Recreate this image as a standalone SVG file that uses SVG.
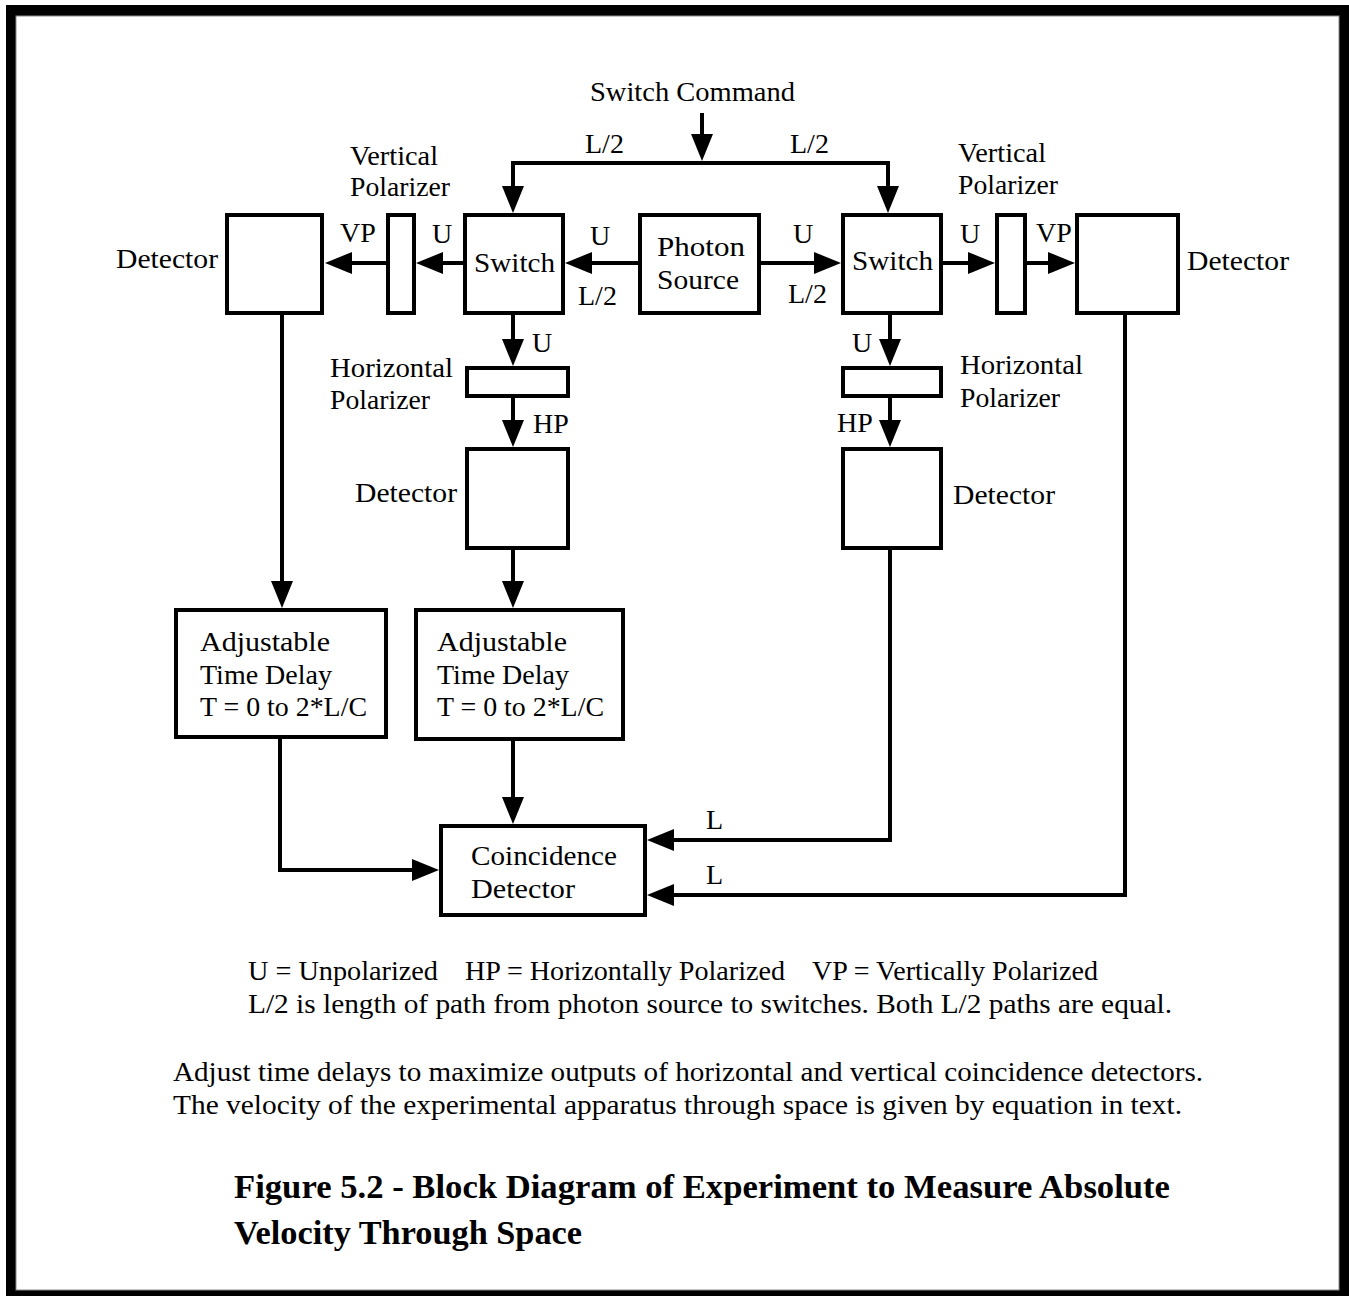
<svg xmlns="http://www.w3.org/2000/svg" width="1349" height="1296" viewBox="0 0 1349 1296">
  <style>
    .box { fill: #ffffff; stroke: #000000; stroke-width: 4; }
    .wire { fill: none; stroke: #000000; stroke-width: 4; stroke-linejoin: miter; }
    text { font-family: "Liberation Serif", "Times New Roman", serif; font-size: 28px; fill: #000000; }
    .title { font-weight: bold; font-size: 34px; }
  </style>
  <defs>
    <!-- solid triangular arrowhead; path ends 12px short of the tip -->
    <marker id="arrow" markerUnits="userSpaceOnUse" markerWidth="28" markerHeight="24" refX="15" refY="11" orient="auto" overflow="visible">
      <path d="M0,0 L27,11 L0,22 Z" fill="#000000"/>
    </marker>
  </defs>

  <!-- page frame -->
  <rect x="6" y="5" width="1343" height="1291" fill="#000000"/>
  <rect x="16" y="16" width="1323" height="1274" fill="#ffffff" stroke="#8a8a8a" stroke-width="1"/>

  <!-- connectors -->
  <g id="connectors">
    <path class="wire" d="M702,113 V149" marker-end="url(#arrow)"/>
    <path class="wire" d="M513,201 V163 H888 V201" marker-end="url(#arrow)"/>
    <path class="wire" d="M513,163 V201" marker-end="url(#arrow)"/>
    <!-- horizontal signal paths -->
    <path class="wire" d="M638,263 H577" marker-end="url(#arrow)"/>
    <path class="wire" d="M463,263 H428" marker-end="url(#arrow)"/>
    <path class="wire" d="M386,263 H337" marker-end="url(#arrow)"/>
    <path class="wire" d="M761,263 H829" marker-end="url(#arrow)"/>
    <path class="wire" d="M943,263 H983" marker-end="url(#arrow)"/>
    <path class="wire" d="M1027,263 H1063" marker-end="url(#arrow)"/>
    <!-- left vertical chain -->
    <path class="wire" d="M513,315 V354" marker-end="url(#arrow)"/>
    <path class="wire" d="M513,398 V435" marker-end="url(#arrow)"/>
    <path class="wire" d="M513,550 V596" marker-end="url(#arrow)"/>
    <path class="wire" d="M513,741 V812" marker-end="url(#arrow)"/>
    <path class="wire" d="M282,315 V596" marker-end="url(#arrow)"/>
    <path class="wire" d="M280,739 V870 H427" marker-end="url(#arrow)"/>
    <!-- right vertical chain -->
    <path class="wire" d="M890,315 V354" marker-end="url(#arrow)"/>
    <path class="wire" d="M890,398 V435" marker-end="url(#arrow)"/>
    <path class="wire" d="M890,550 V840 H659" marker-end="url(#arrow)"/>
    <path class="wire" d="M1125,315 V895 H659" marker-end="url(#arrow)"/>
  </g>

  <!-- connector labels -->
  <g id="connector-labels">
    <text x="590" y="101" textLength="205" lengthAdjust="spacingAndGlyphs">Switch Command</text>
    <text x="585" y="153">L/2</text>
    <text x="790" y="153">L/2</text>
    <text x="590" y="245">U</text>
    <text x="578" y="305">L/2</text>
    <text x="432" y="243">U</text>
    <text x="340" y="242">VP</text>
    <text x="793" y="243">U</text>
    <text x="788" y="303">L/2</text>
    <text x="960" y="243">U</text>
    <text x="1036" y="242">VP</text>
    <text x="532" y="352">U</text>
    <text x="533" y="433">HP</text>
    <text x="852" y="352">U</text>
    <text x="837" y="432">HP</text>
    <text x="706" y="829" font-size="22">L</text>
    <text x="706" y="884" font-size="22">L</text>
  </g>

  <g id="detector-left">
    <rect class="box" x="227" y="215" width="95" height="98"/>
    <text x="116" y="268" textLength="102" lengthAdjust="spacingAndGlyphs">Detector</text>
  </g>
  <g id="vpolarizer-left">
    <rect class="box" x="388" y="215" width="26" height="98"/>
    <text x="350" y="165" textLength="88" lengthAdjust="spacingAndGlyphs">Vertical</text>
    <text x="350" y="196" textLength="100" lengthAdjust="spacingAndGlyphs">Polarizer</text>
  </g>
  <g id="switch-left">
    <rect class="box" x="465" y="215" width="98" height="98"/>
    <text x="474" y="272" textLength="81" lengthAdjust="spacingAndGlyphs">Switch</text>
  </g>
  <g id="photon-source">
    <rect class="box" x="640" y="215" width="119" height="98"/>
    <text x="657" y="256" textLength="88" lengthAdjust="spacingAndGlyphs">Photon</text>
    <text x="657" y="289" textLength="82" lengthAdjust="spacingAndGlyphs">Source</text>
  </g>
  <g id="switch-right">
    <rect class="box" x="843" y="215" width="98" height="98"/>
    <text x="852" y="270" textLength="81" lengthAdjust="spacingAndGlyphs">Switch</text>
  </g>
  <g id="vpolarizer-right">
    <rect class="box" x="997" y="215" width="28" height="98"/>
    <text x="958" y="162" textLength="88" lengthAdjust="spacingAndGlyphs">Vertical</text>
    <text x="958" y="194" textLength="100" lengthAdjust="spacingAndGlyphs">Polarizer</text>
  </g>
  <g id="detector-right">
    <rect class="box" x="1077" y="215" width="101" height="98"/>
    <text x="1187" y="270" textLength="102" lengthAdjust="spacingAndGlyphs">Detector</text>
  </g>
  <g id="hpolarizer-left">
    <rect class="box" x="467" y="368" width="101" height="28"/>
    <text x="330" y="377" textLength="123" lengthAdjust="spacingAndGlyphs">Horizontal</text>
    <text x="330" y="409" textLength="100" lengthAdjust="spacingAndGlyphs">Polarizer</text>
  </g>
  <g id="hpolarizer-right">
    <rect class="box" x="843" y="368" width="98" height="28"/>
    <text x="960" y="374" textLength="123" lengthAdjust="spacingAndGlyphs">Horizontal</text>
    <text x="960" y="407" textLength="100" lengthAdjust="spacingAndGlyphs">Polarizer</text>
  </g>
  <g id="detector-mid-left">
    <rect class="box" x="467" y="449" width="101" height="99"/>
    <text x="355" y="502" textLength="102" lengthAdjust="spacingAndGlyphs">Detector</text>
  </g>
  <g id="detector-mid-right">
    <rect class="box" x="843" y="449" width="98" height="99"/>
    <text x="953" y="504" textLength="102" lengthAdjust="spacingAndGlyphs">Detector</text>
  </g>
  <g id="delay-left">
    <rect class="box" x="176" y="610" width="210" height="127"/>
    <text x="200" y="651" textLength="130" lengthAdjust="spacingAndGlyphs">Adjustable</text>
    <text x="200" y="684" textLength="132" lengthAdjust="spacingAndGlyphs">Time Delay</text>
    <text x="200" y="716" textLength="167" lengthAdjust="spacingAndGlyphs">T = 0 to 2*L/C</text>
  </g>
  <g id="delay-mid">
    <rect class="box" x="416" y="610" width="207" height="129"/>
    <text x="437" y="651" textLength="130" lengthAdjust="spacingAndGlyphs">Adjustable</text>
    <text x="437" y="684" textLength="132" lengthAdjust="spacingAndGlyphs">Time Delay</text>
    <text x="437" y="716" textLength="167" lengthAdjust="spacingAndGlyphs">T = 0 to 2*L/C</text>
  </g>
  <g id="coincidence-detector">
    <rect class="box" x="441" y="826" width="204" height="89"/>
    <text x="471" y="865" textLength="146" lengthAdjust="spacingAndGlyphs">Coincidence</text>
    <text x="471" y="898" textLength="104" lengthAdjust="spacingAndGlyphs">Detector</text>
  </g>

  <!-- legend and notes -->
  <g id="notes">
    <text x="248" y="980" textLength="190" lengthAdjust="spacingAndGlyphs">U = Unpolarized</text>
    <text x="465" y="980" textLength="320" lengthAdjust="spacingAndGlyphs">HP = Horizontally Polarized</text>
    <text x="812" y="980" textLength="286" lengthAdjust="spacingAndGlyphs">VP = Vertically Polarized</text>
    <text x="248" y="1013" textLength="924" lengthAdjust="spacingAndGlyphs">L/2 is length of path from photon source to switches. Both L/2 paths are equal.</text>
    <text x="173" y="1081" textLength="1030" lengthAdjust="spacingAndGlyphs">Adjust time delays to maximize outputs of horizontal and vertical coincidence detectors.</text>
    <text x="173" y="1114" textLength="1009" lengthAdjust="spacingAndGlyphs">The velocity of the experimental apparatus through space is given by equation in text.</text>
    <text class="title" x="234" y="1198" textLength="936" lengthAdjust="spacingAndGlyphs">Figure 5.2 - Block Diagram of Experiment to Measure Absolute</text>
    <text class="title" x="234" y="1244" textLength="348" lengthAdjust="spacingAndGlyphs">Velocity Through Space</text>
  </g>
</svg>
